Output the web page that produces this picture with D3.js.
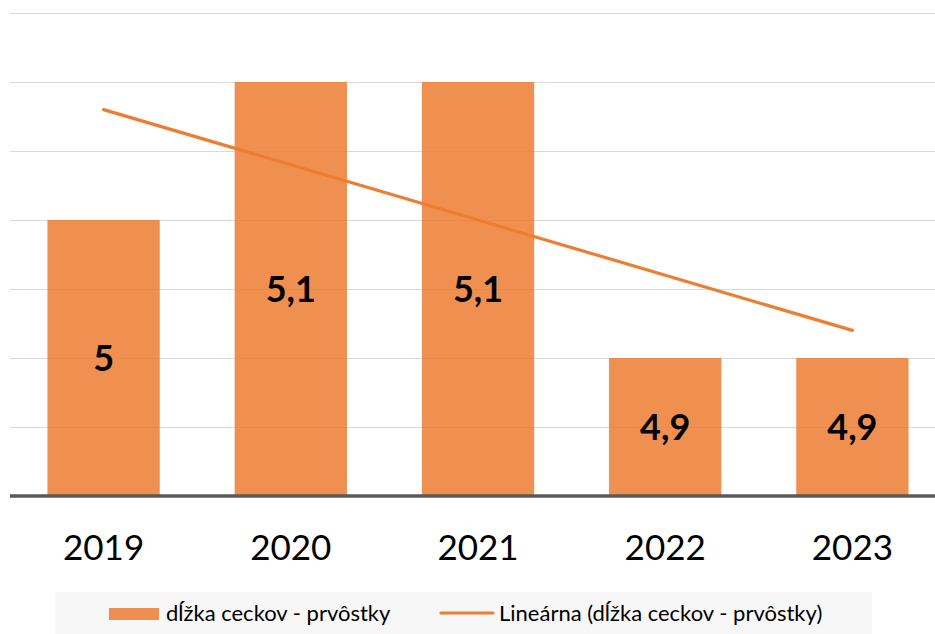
<!DOCTYPE html>
<html lang="sk">
<head>
<meta charset="UTF-8">
<title>dĺžka ceckov - prvôstky</title>
<script src="https://d3js.org/d3.v7.min.js"></script>
<style>
  body { margin: 0; background: #fff; }
  svg text { font-family: Lato, "Open Sans", sans-serif; }
</style>
</head>
<body>
<svg width="935" height="634"></svg>
<script>
  const years = ["2019", "2020", "2021", "2022", "2023"];
  const values = [5.0, 5.1, 5.1, 4.9, 4.9];
  const gridTicks = [4.8, 4.85, 4.9, 4.95, 5.0, 5.05, 5.1, 5.15];
  const seriesName = "dĺžka ceckov - prvôstky";
  const trendName = "Lineárna (dĺžka ceckov - prvôstky)";

  const W = 935;
  const orange = "#ED7D31";
  const svg = d3.select("svg");

  const x = d3.scaleBand().domain(years).range([10, 946])
    .paddingInner(0.4).paddingOuter(0.2);
  const y = d3.scaleLinear().domain([4.8, 5.15]).range([496, 13]);
  const cx = i => x(years[i]) + x.bandwidth() / 2;

  // gridlines
  svg.append("g").selectAll("line")
    .data(gridTicks.slice(1))
    .enter().append("line")
    .attr("x1", 10).attr("x2", W)
    .attr("y1", d => Math.round(y(d)) + 0.5)
    .attr("y2", d => Math.round(y(d)) + 0.5)
    .attr("stroke", "#d9d9d9").attr("stroke-width", 1);

  // bars
  svg.append("g").selectAll("rect")
    .data(values)
    .enter().append("rect")
    .attr("x", (d, i) => x(years[i]))
    .attr("width", x.bandwidth())
    .attr("y", d => y(d))
    .attr("height", d => y(4.8) - y(d))
    .attr("fill", orange).attr("fill-opacity", 0.85);

  // baseline
  svg.append("line")
    .attr("x1", 10).attr("x2", W)
    .attr("y1", y(4.8)).attr("y2", y(4.8))
    .attr("stroke", "#595959").attr("stroke-width", 3.5);

  // bar labels
  const fmt = v => String(v).replace(".", ",");
  svg.append("g").selectAll("text")
    .data(values)
    .enter().append("text")
    .attr("x", (d, i) => cx(i))
    .attr("y", d => (y(d) + y(4.8)) / 2)
    .attr("dy", "0.36em")
    .attr("text-anchor", "middle")
    .attr("font-size", 36).attr("font-weight", "bold")
    .attr("fill", "#000")
    .text(fmt);

  // linear trend (least squares on the bar values)
  const xs = values.map((d, i) => i + 1);
  const mx = d3.mean(xs), my = d3.mean(values);
  const slope = d3.sum(xs, (v, i) => (v - mx) * (values[i] - my)) / d3.sum(xs, v => (v - mx) ** 2);
  const ends = [0, values.length - 1];
  svg.append("path")
    .datum(ends)
    .attr("d", d3.line()
      .x(i => cx(i))
      .y(i => y(my + slope * (xs[i] - mx))))
    .attr("fill", "none")
    .attr("stroke", orange).attr("stroke-width", 3.2)
    .attr("stroke-linecap", "round");

  // x axis labels
  svg.append("g")
    .attr("transform", `translate(0,${y(4.8)})`)
    .call(d3.axisBottom(x).tickSize(0).tickPadding(39))
    .call(g => g.select(".domain").remove())
    .selectAll("text")
    .attr("font-size", 35).attr("fill", "#000")
    .attr("font-family", "Lato, sans-serif");

  // legend
  const lg = svg.append("g");
  lg.append("rect")
    .attr("x", 55).attr("y", 592).attr("width", 817).attr("height", 42)
    .attr("fill", "#f7f7f7");
  lg.append("rect")
    .attr("x", 109).attr("y", 608).attr("width", 50).attr("height", 12)
    .attr("fill", orange).attr("fill-opacity", 0.85);
  lg.append("text")
    .attr("x", 166).attr("y", 613).attr("dy", "0.36em")
    .attr("font-size", 22).attr("fill", "#000")
    .text(seriesName);
  lg.append("line")
    .attr("x1", 441).attr("x2", 493).attr("y1", 613).attr("y2", 613)
    .attr("stroke", orange).attr("stroke-width", 3.2).attr("stroke-linecap", "round");
  lg.append("text")
    .attr("x", 499).attr("y", 613).attr("dy", "0.36em")
    .attr("font-size", 22).attr("fill", "#000")
    .text(trendName);
</script>
</body>
</html>
